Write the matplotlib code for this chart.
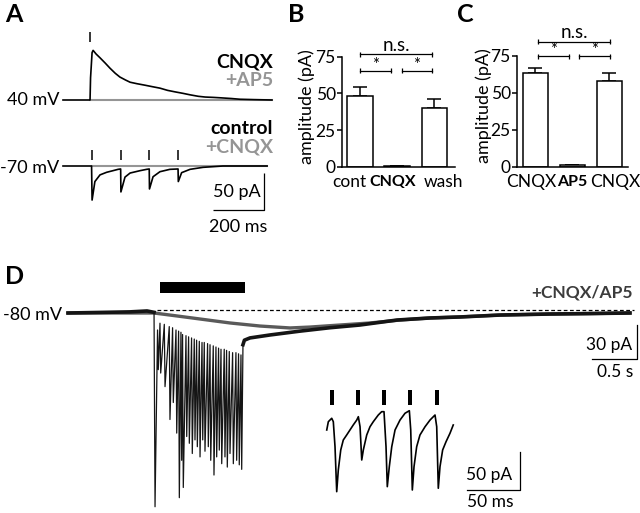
import matplotlib
matplotlib.use('Agg')
import matplotlib.pyplot as plt
from matplotlib.patches import Rectangle
from matplotlib.transforms import offset_copy
import numpy as np

plt.rcParams['font.family'] = ['Lato', 'DejaVu Sans']

# ---------------- data ----------------
# Panel A, +40 mV (time ms, current pA)
a40_cnqx_t = [0, 106, 108, 114, 118, 130, 145, 165, 184, 205, 223, 245, 263, 290, 321, 350,
              380, 410, 439, 470, 498, 530, 557, 590, 615, 660, 694, 750, 819]
a40_cnqx_i = [0, 0, 30, 64, 67, 62, 57, 50, 43, 36, 31, 27, 24, 22, 20, 18,
              16, 13, 11, 9, 7, 5, 4, 3.5, 3, 2, 1, 0.5, 0]
a40_ap5_t = [106, 819]
a40_ap5_i = [0, 0]
a40_stim = [106]
# Panel A, -70 mV
a70_ctrl_t = [0, 112, 114, 125, 145, 171, 196, 216, 226, 227, 243, 263, 302, 328, 338, 339,
              353, 380, 419, 451, 452, 465, 498, 549, 627, 800]
a70_ctrl_i = [0, 0, -46, -21, -12, -8.5, -6.3, -4.5, -4, -35, -15, -9.5, -6.3, -4.5, -4, -31,
              -14.5, -7.7, -4.5, -4, -21, -9, -4.5, -1.8, 0, 0]
a70_cnqx_t = [112, 800]
a70_cnqx_i = [0, 0]
a70_stim = [114, 227, 339, 452]

# Panel B
b_labels = ['cont', 'CNQX', 'wash']
b_means = [48.4, 0.5, 40.2]
b_sems = [5.7, 0.3, 5.8]
# Panel C
c_labels = ['CNQX', 'AP5', 'CNQX']
c_means = [63.5, 1.0, 57.9]
c_sems = [3.4, 0.4, 5.6]

# Panel D (time s, current pA)
d_pre_t = [0, 0.35, 0.689, 0.878, 0.956]
d_pre_i = [0, 0.5, 1.0, 1.8, 0.6]
d_spike_t = [0.967]
d_spike_i = [-171]
d_train_t = [1.003, 1.030, 1.078, 1.133, 1.170, 1.208, 1.237, 1.263, 1.281, 1.319,
             1.348, 1.381, 1.411, 1.437, 1.467, 1.497, 1.522, 1.559, 1.586, 1.622,
             1.652, 1.681, 1.708, 1.744, 1.770, 1.800, 1.837, 1.874, 1.903, 1.930]
d_train_trough = [-50, -53, -65, -94, -79, -106, -163, -130, -154, -109,
                  -115, -124, -112, -118, -127, -112, -122, -118, -130, -143,
                  -127, -121, -133, -127, -136, -124, -133, -130, -134, -138]
d_train_peak = [-15, -9, -10, -12, -13, -15, -16, -17, -19, -20,
                -21, -22, -23, -24, -25, -26, -26, -27, -28, -29,
                -30, -31, -32, -32, -33, -34, -35, -35, -36, -37]
d_post_t = [1.944, 1.96, 2.022, 2.244, 2.578, 2.911, 3.244, 3.656, 4.022, 4.356, 4.8, 5.356, 5.8, 6.244]
d_post_i = [-28, -24, -22, -19.4, -16, -13, -10.6, -6.2, -4.4, -3.5, -1.8, -0.9, -0.5, 0]
d_grey_t = [0, 0.956, 1.2, 1.467, 1.8, 2.133, 2.467, 2.689, 3.022, 3.356, 3.689, 4.022,
            4.356, 4.8, 5.356, 5.8, 6.244]
d_grey_i = [0, 0, -2.5, -5.3, -8.8, -11.5, -13.2, -12.4, -10.6, -8.8, -6.2, -4.4,
            -3.5, -1.8, -0.9, -0.5, 0]
d_train_on, d_train_off = 1.022, 1.967
d_ref_level = 2.6
# inset (time ms, current pA)
ins_t = [0.7, 2.2, 5.4, 6.9, 8.5, 10.1, 11.6, 13.9, 16.3, 19.5, 22.6, 25.7, 29.0, 30.5,
         32.1, 33.7, 35.2, 38.4, 41.5, 44.6, 49.3, 52.5, 54.7, 56.6, 57.8, 59.7, 62.0,
         65.1, 69.8, 74.5, 78.6, 79.9, 81.4, 83.0, 85.5, 88.6, 93.4, 98.1, 102.8, 104.4,
         105.9, 107.5, 110.0, 113.2, 116.9, 120.0]
ins_i = [-26.3, -15.4, -10.9, -15.4, -48.3, -107.5, -79.0, -52.6, -39.5, -32.9, -26.3,
         -19.7, -13.2, -8.8, -22.0, -65.8, -52.6, -32.9, -22.0, -15.4, -6.6, -2.2, -2.2,
         -48.3, -100.9, -74.6, -48.3, -26.3, -13.2, -4.3, -0.9, -26.3, -105.3, -74.6,
         -48.3, -32.9, -22.0, -13.2, -6.6, -22.0, -103.0, -74.6, -52.6, -41.7, -30.7, -19.7]
ins_stim = [5.7, 30.2, 54.7, 79.2, 104.7]

# ---------------- figure ----------------
W, H = 640, 513
fig = plt.figure(figsize=(6.4, 5.13), dpi=100)


def data_axes(x0, y0, x1, y1, ox, sx, oy, sy):
    ax = fig.add_axes([x0 / W, 1 - y1 / H, (x1 - x0) / W, (y1 - y0) / H])
    ax.set_xlim((x0 - ox) * sx, (x1 - ox) * sx)
    ax.set_ylim((oy - y1) * sy, (oy - y0) * sy)
    ax.axis('off')
    return ax


def ftext(x, y, s, **kw):
    fig.text(x / W, 1 - y / H, s, **kw)


GREY = '#959595'
FS = 12.5
FSV = 13.0   # voltage labels
FSA = 14.0   # condition labels in A

# panel letters
for lab, x, y in [('A', 5, 15), ('B', 288, 15), ('C', 457, 15), ('D', 5, 276)]:
    ftext(x, y, lab, fontsize=18, fontweight='bold', va='center', ha='left')

# ---- Panel A ----
axA = data_axes(50, 20, 290, 245, 63, 3.92, 166, 1.35)
TOP = 89.1
axA.plot(a40_ap5_t, np.array(a40_ap5_i) + TOP, color=GREY, lw=1.5)
axA.plot(a40_cnqx_t, np.array(a40_cnqx_i) + TOP, color='k', lw=1.2)
axA.vlines(a40_stim, TOP + 78, TOP + 92, color='k', lw=1.1)
axA.plot(a70_cnqx_t, a70_cnqx_i, color=GREY, lw=1.5)
axA.plot(a70_ctrl_t, a70_ctrl_i, color='k', lw=1.2)
axA.vlines(a70_stim, 8, 22, color='k', lw=1.1)
# scale bar 50 pA / 200 ms
axA.plot([588, 788, 788], [-60, -60, -10], color='k', lw=0.9, solid_capstyle='butt')
axA.text(773, -35, '50 pA', fontsize=13, ha='right', va='center')
axA.text(688, -82, '200 ms', fontsize=13, ha='center', va='center')

ftext(59, 100, '40 mV', fontsize=FSV, ha='right', va='center')
ftext(59.5, 168, '-70 mV', fontsize=FSV, ha='right', va='center')
ftext(273, 61.5, 'CNQX', fontsize=FSA, ha='right', va='center', fontweight='bold')
ftext(273, 80.5, '+AP5', fontsize=FSA, ha='right', va='center', fontweight='bold', color=GREY)
ftext(273, 128, 'control', fontsize=FSA, ha='right', va='center', fontweight='bold')
ftext(273, 147, '+CNQX', fontsize=FSA, ha='right', va='center', fontweight='bold', color=GREY)


# ---- Panels B, C ----
def bar_panel(box, labels, means, sems, xl, lab_dx, bold_idx, ylab_x, brackets, ns, stars):
    x0, y0, x1, y1 = box
    ax = fig.add_axes([x0 / W, 1 - y1 / H, (x1 - x0) / W, (y1 - y0) / H])
    pos = np.arange(len(means))
    ax.bar(pos, means, width=0.68, color='white', edgecolor='k', linewidth=1.1, zorder=2)
    ax.errorbar(pos, means, yerr=[np.zeros(len(sems)), sems], fmt='none', ecolor='k',
                elinewidth=1.1, capsize=5, capthick=1.1, zorder=1)
    ax.set_xlim(*xl)
    ax.set_ylim(0, 75)
    ax.set_yticks([0, 25, 50, 75])
    ax.set_xticks([])
    for s in ['top', 'right']:
        ax.spines[s].set_visible(False)
    for s in ['left', 'bottom']:
        ax.spines[s].set_linewidth(1.1)
    ax.tick_params(axis='y', length=3.5, width=1.1, pad=0.8, labelsize=12.5)
    for i, lab in enumerate(labels):
        tr = offset_copy(ax.transData, fig=fig, x=lab_dx[i], y=-15, units='dots')
        ax.text(pos[i], 0, lab, transform=tr, ha='center', va='center',
                fontsize=11.5 if i == bold_idx else 12.5,
                fontweight='bold' if i == bold_idx else 'normal')
    ax.text(ylab_x, 0.55, 'amplitude (pA)', transform=ax.transAxes, rotation=90,
            ha='center', va='center', fontsize=13)
    ypx = (y1 - y0) / 75.0
    for (a, b, y) in brackets:
        ax.plot([a, b], [y, y], color='k', lw=0.9, clip_on=False)
        ax.vlines([a, b], y - 2.5 / ypx, y + 2.5 / ypx, color='k', lw=0.9, clip_on=False)
    ax.text(ns[0], ns[1], 'n.s.', ha='center', va='baseline', fontsize=13.5, clip_on=False)
    for (x, y) in stars:
        ax.text(x, y, '*', ha='center', va='center', fontsize=12, clip_on=False)
    return ax


bar_panel((341.7, 56.7, 455, 166.7), b_labels, b_means, b_sems, (-0.493, 2.56),
          [-11, -4, 9], 1, -0.305,
          [(0, 1.95, 76.6), (0, 0.83, 65.4), (1.12, 1.95, 65.4)],
          (0.975, 78.6), [(0.415, 69.5), (1.535, 69.5)])
bar_panel((516.7, 55.5, 628, 166.7), c_labels, c_means, c_sems, (-0.51, 2.51),
          [-4.5, 0, 6], 1, -0.30,
          [(0.07, 2.02, 84.3), (0.07, 0.91, 74.6), (1.19, 2.02, 74.6)],
          (1.045, 86.8), [(0.49, 79.0), (1.6, 79.0)])

# ---- Panel D ----
axD = data_axes(55, 255, 640, 513, 68, 1 / 90.0, 313, 1 / 1.133)
train_t, train_i = [], []
for tt, pk, tr in zip(d_train_t, d_train_peak, d_train_trough):
    train_t += [tt - 0.008, tt]
    train_i += [pk, tr]
black_t = d_pre_t + d_spike_t + train_t + d_post_t
black_i = d_pre_i + d_spike_i + train_i + d_post_i
axD.plot(d_grey_t, d_grey_i, color='#5a5a5a', lw=2.4, solid_joinstyle='round')
axD.plot(black_t, black_i, color='#151515', lw=0.9)
axD.plot(d_pre_t, d_pre_i, color='#151515', lw=2.6)
axD.plot(d_post_t, d_post_i, color='#151515', lw=2.6)
axD.plot([d_train_t[0] - 0.01, black_t[-1] + 0.05], [d_ref_level, d_ref_level], color='k',
         lw=0.9, dashes=(3, 2))
axD.add_patch(Rectangle((d_train_on, 17.7), d_train_off - d_train_on, 9.7, color='k', lw=0))
# scale bar 30 pA / 0.5 s
axD.plot([5.822, 6.322, 6.322], [-40.6, -40.6, -10.6], color='k', lw=0.9)
ftext(62, 315, '-80 mV', fontsize=FSV, ha='right', va='center')
ftext(633, 293, '+CNQX/AP5', fontsize=12.5, ha='right', va='center', fontweight='bold',
      color='#3c3c3c')
ftext(632, 345, '30 pA', fontsize=FS, ha='right', va='center')
ftext(615, 372, '0.5 s', fontsize=FS, ha='center', va='center')

# inset
axI = data_axes(320, 380, 530, 513, 326, 0.943, 410, 1.316)
axI.plot(ins_t, ins_i, color='k', lw=1.2)
axI.bar(ins_stim, 19.7, bottom=6.6, width=4.5, color='k')
axI.plot([133, 183, 183], [-105.3, -105.3, -55.3], color='k', lw=0.9)
ftext(512, 475, '50 pA', fontsize=FS, ha='right', va='center')
ftext(490, 502, '50 ms', fontsize=FS, ha='center', va='center')

fig.savefig('out.png', dpi=100)
